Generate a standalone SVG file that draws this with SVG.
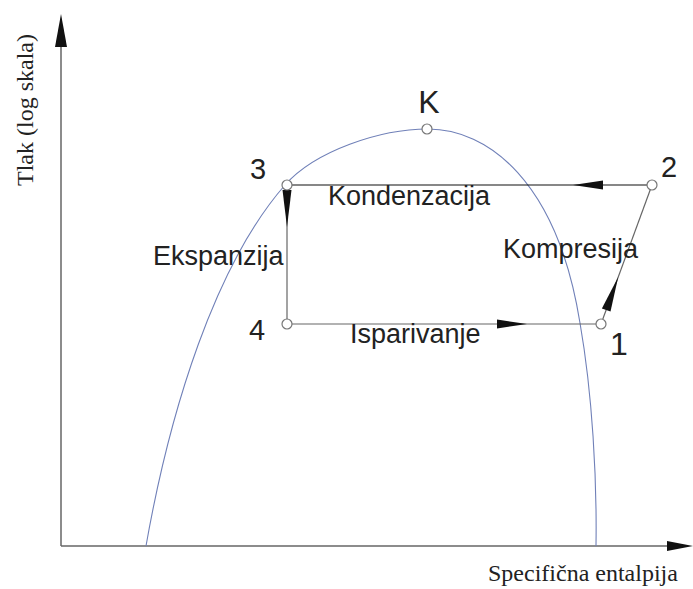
<svg xmlns="http://www.w3.org/2000/svg" width="693" height="589" viewBox="0 0 693 589">
<style>
.axis{stroke:#666;stroke-width:1.5;fill:none}
.cyc{stroke:#666;stroke-width:1.2;fill:none}
.cycb{stroke:#111;stroke-width:1.2;fill:none}
.head{fill:#111;stroke:none}
.ahead{fill:#111;stroke:none}
.pt{fill:#fff;stroke:#777;stroke-width:1.2}
.curve{fill:none;stroke:#7080b8;stroke-width:1.1}
.lbl{font-family:"Liberation Sans",Arial,sans-serif;font-size:27px;fill:#222}
.num{font-family:"Liberation Sans",Arial,sans-serif;font-size:29px;fill:#222}
.ax{font-family:"Liberation Serif","Times New Roman",serif;font-size:24px;fill:#222}
</style>
<rect width="693" height="589" fill="#fff"/>
<g id="axes">
<line class="axis" x1="61" y1="546" x2="61" y2="46"/>
<polygon class="ahead" points="61,14 55,47 67,47"/>
<line class="axis" x1="61" y1="546" x2="668" y2="546"/>
<polygon class="ahead" points="693,546 667,541 667,551"/>
<text class="ax" transform="translate(33,110) rotate(-90)" text-anchor="middle">Tlak (log skala)</text>
<text class="ax" x="488" y="581">Specifična entalpija</text>
</g>
<g id="saturation-curve">
<path class="curve" d="M146,546 C170,410 215,265 285,185 C315,151 380,129 428,129 C487,129 557,180 580,323 C592.5,394.5 597,480 596,546"/>
</g>
<g id="connectors">
<line class="cycb" x1="287" y1="185" x2="652" y2="185"/>
<polygon class="head" points="573,185 603,180.5 603,189.5"/>
<line class="cyc" x1="287" y1="185" x2="287" y2="324"/>
<polygon class="head" points="287,227 282.5,190 291.5,190"/>
<line class="cyc" x1="287" y1="324" x2="601" y2="324"/>
<polygon class="head" points="527,324 497,319.5 497,328.5"/>
<line class="cyc" x1="601" y1="324" x2="652" y2="185"/>
<polygon class="head" points="618.2,277 601.9,308.4 610.5,311.4"/>
</g>
<g id="node-K">
<circle class="pt" cx="427" cy="129" r="5"/>
<text class="num" x="429" y="113" text-anchor="middle" style="font-size:32px">K</text>
</g>
<g id="node-3">
<circle class="pt" cx="287" cy="185" r="5"/>
<text class="num" x="250" y="179">3</text>
</g>
<g id="node-2">
<circle class="pt" cx="652" cy="185" r="5"/>
<text class="num" x="661" y="177">2</text>
</g>
<g id="node-4">
<circle class="pt" cx="287" cy="324" r="5"/>
<text class="num" x="249" y="340">4</text>
</g>
<g id="node-1">
<circle class="pt" cx="601" cy="324" r="5"/>
<text class="num" x="610" y="355" style="font-size:32px">1</text>
</g>
<g id="labels">
<text class="lbl" x="328" y="205">Kondenzacija</text>
<text class="lbl" x="153" y="265">Ekspanzija</text>
<text class="lbl" x="503" y="258">Kompresija</text>
<text class="lbl" x="350" y="343">Isparivanje</text>
</g>
</svg>
